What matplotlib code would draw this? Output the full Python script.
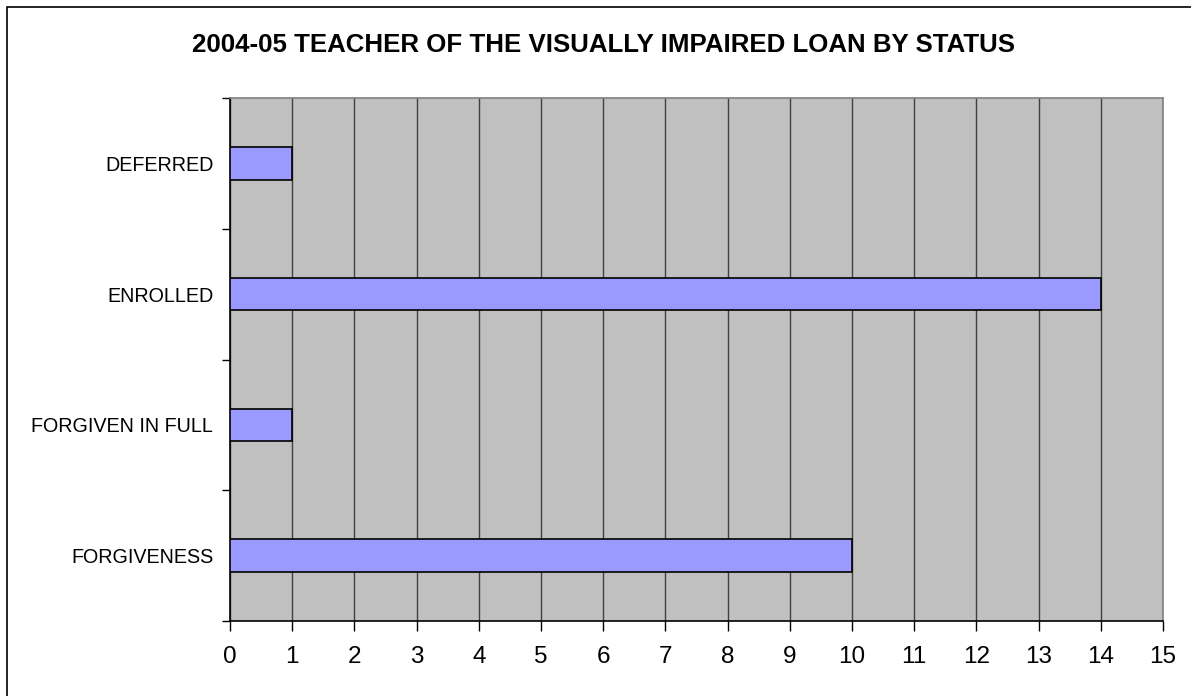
import matplotlib
matplotlib.use("Agg")
import matplotlib.pyplot as plt
from matplotlib.patches import Rectangle

categories = ["DEFERRED", "ENROLLED", "FORGIVEN IN FULL", "FORGIVENESS"]
values = [1, 14, 1, 10]
xticks = list(range(0, 16))
title = "2004-05 TEACHER OF THE VISUALLY IMPAIRED LOAN BY STATUS"

plt.rcParams['font.family'] = ['Liberation Sans', 'DejaVu Sans']

W, H = 1191, 696
fig = plt.figure(figsize=(W / 100, H / 100), dpi=100)
fig.patch.set_facecolor("white")
fig.add_artist(Rectangle((7 / W, -0.1), 1.2, 1 - 7 / H + 0.1, transform=fig.transFigure,
                         fill=False, edgecolor="black", linewidth=1.2))

left, right, top, bottom = 230, 1163, 98, 621
ax = fig.add_axes([left / W, 1 - bottom / H, (right - left) / W, (bottom - top) / H])
ax.set_facecolor("#C0C0C0")

n = len(categories)
pos = list(range(n))
ax.barh(pos, values, height=0.25, color="#9999FF", edgecolor="black", linewidth=1.2, zorder=3)
ax.set_ylim(n - 0.5, -0.5)
ax.set_xlim(0, 15)
ax.set_xticks(xticks)
ax.set_xticklabels([str(t) for t in xticks], fontsize=17.5)
ax.set_yticks(pos)
ax.set_yticklabels(categories, fontsize=14.2)
ax.set_yticks([p + 0.5 for p in range(-1, n)], minor=True)
ax.tick_params(axis="y", which="major", length=0, pad=12)
ax.tick_params(axis="y", which="minor", length=6, width=1, direction="out")
ax.tick_params(axis="x", length=7, width=1, direction="out", pad=11)
ax.grid(axis="x", color="#404040", linewidth=1, zorder=1)
ax.set_axisbelow(True)
for s in ["left", "bottom"]:
    ax.spines[s].set_color("black")
    ax.spines[s].set_linewidth(1.2)
for s in ["top", "right"]:
    ax.spines[s].set_color("#808080")
    ax.spines[s].set_linewidth(1.2)

fig.text(0.5 * (193 + 1015) / W, 1 - 52 / H, title, ha="center", va="baseline",
         fontsize=18.6, fontweight="bold")

fig.savefig("out.png", dpi=100)
